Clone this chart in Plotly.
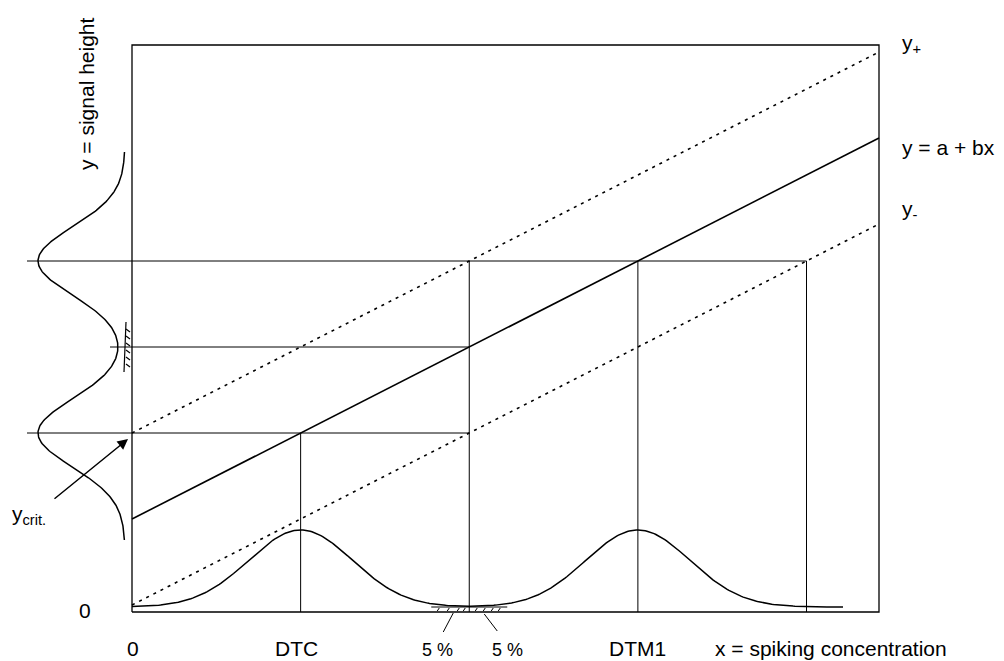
import numpy as np
import plotly.graph_objects as go

# ---------------- data (schematic units) ----------------
intercept_a = 93.0          # a
slope_b = 0.51              # b
band_delta = 86.0           # half width of prediction band
x_axis_len = 747.0
y_axis_len = 567.0
x_curve_end = 711.0

bottom_base = 5.0
bottom_amp = 77.0
bottom_sigma = 52.0

left_base = -7.0
left_amp = 87.0
left_sigma = 34.0

axis_labels = ["y = signal height", "x = spiking concentration"]
bottom_labels = ["0", "DTC", "5 %", "5 %", "DTM1"]
line_labels = ["y<sub>+</sub>", "y = a + bx", "y<sub>-</sub>"]

# ---------------- derived quantities ----------------
y_crit = intercept_a + band_delta
x_dtc = (y_crit - intercept_a) / slope_b
x_mid = 2 * x_dtc
x_dtm1 = 3 * x_dtc
x_right = 4 * x_dtc
y_mid = intercept_a + slope_b * x_mid
y_top = intercept_a + band_delta + slope_b * x_mid

FONT = "Arial, Liberation Sans, sans-serif"
fig = go.Figure()

def line(xs, ys, width=1.2, dash=None, color="black"):
    fig.add_trace(go.Scatter(x=xs, y=ys, mode="lines",
                             line=dict(color=color, width=width, dash=dash),
                             hoverinfo="skip", showlegend=False))

# frame
line([0, x_axis_len, x_axis_len, 0, 0], [0, 0, y_axis_len, y_axis_len, 0], width=1.3)

# regression line and band
xl = np.array([0, x_axis_len])
line(xl, intercept_a + slope_b * xl, width=1.6)
line(xl, intercept_a + band_delta + slope_b * xl, width=1.6, dash="3px,5px")
line(xl, intercept_a - band_delta + slope_b * xl, width=1.6, dash="3px,5px")

# horizontal construction lines
line([-105, x_mid], [y_crit, y_crit], width=1.0)
line([-22, x_mid], [y_mid, y_mid], width=1.0)
line([-105, x_right], [y_top, y_top], width=1.0)

# vertical construction lines
line([x_dtc, x_dtc], [0, y_crit], width=1.0)
line([x_mid, x_mid], [0, y_top], width=1.0)
line([x_dtm1, x_dtm1], [0, y_top], width=1.0)
line([x_right, x_right], [0, y_top], width=1.0)

# bottom distributions
xb = np.linspace(0, x_curve_end, 400)
yb = bottom_base + bottom_amp * (np.exp(-(xb - x_dtc) ** 2 / (2 * bottom_sigma ** 2))
                                 + np.exp(-(xb - x_dtm1) ** 2 / (2 * bottom_sigma ** 2)))
line(xb, yb, width=1.5)

# left distributions
yl = np.linspace(y_crit - 107, y_top + 109, 400)
xlc = left_base - left_amp * (np.exp(-(yl - y_crit) ** 2 / (2 * left_sigma ** 2))
                              + np.exp(-(yl - y_top) ** 2 / (2 * left_sigma ** 2)))
line(xlc, yl, width=1.5)

# hatching at left (5 % tail)
hx, hy = [-6, -8, None], [y_mid + 25, y_mid - 25, None]
for k in range(6):
    yy = y_mid + 18 - 7 * k
    hx += [-6, -2, None]
    hy += [yy, yy - 3, None]
line(hx, hy, width=1.2)

# hatching at bottom
bx, by = [x_mid - 38, x_mid + 38, None], [5, 5, None]
for dx in [-30, -20, -10, -4, 8, 16, 24, 31]:
    bx += [x_mid + dx, x_mid + dx - 2, None]
    by += [4, 1, None]
bx += [x_mid - 16, x_mid - 26, None, x_mid + 15, x_mid + 28, None]
by += [-1, -20, None, -2, -19, None]
line(bx, by, width=1.0)

ann = []
def text(t, x, y, size=21, angle=0, xanchor="center"):
    ann.append(dict(text=t, x=x, y=y, xref="x", yref="y", showarrow=False,
                    font=dict(family=FONT, size=size, color="black"),
                    textangle=angle, xanchor=xanchor, yanchor="middle"))

text(axis_labels[0], -46, 518, angle=-90)
text(axis_labels[1], 699, -36)
text(bottom_labels[0], 1, -36)
text("0", -47, 2)
text(bottom_labels[1], x_dtc - 4, -36)
text(bottom_labels[2], x_mid - 32, -38, size=18)
text(bottom_labels[3], x_mid + 38, -38, size=18)
text(bottom_labels[4], x_dtm1, -36)
text(line_labels[0], 768, 568, xanchor="left")
text(line_labels[1], 768, 465, xanchor="left")
text(line_labels[2], 768, 402, xanchor="left")
text("y<sub>crit.</sub>", -122, 97, xanchor="left")

ann.append(dict(x=-4, y=y_crit - 6, ax=-79, ay=112, xref="x", yref="y",
                axref="x", ayref="y", showarrow=True, arrowhead=2,
                arrowsize=1.4, arrowwidth=1.5, arrowcolor="black", text=""))

# the page adds an 8 px body margin; ranges are chosen so the frame lands
# where it sits in the reference
fig.update_layout(
    width=996, height=653, margin=dict(l=0, r=0, t=0, b=0),
    paper_bgcolor="white", plot_bgcolor="white",
    xaxis=dict(range=[-124, 872], visible=False, fixedrange=True),
    yaxis=dict(range=[-49, 604], visible=False, fixedrange=True),
    annotations=ann,
)

fig.write_html("out.html")
